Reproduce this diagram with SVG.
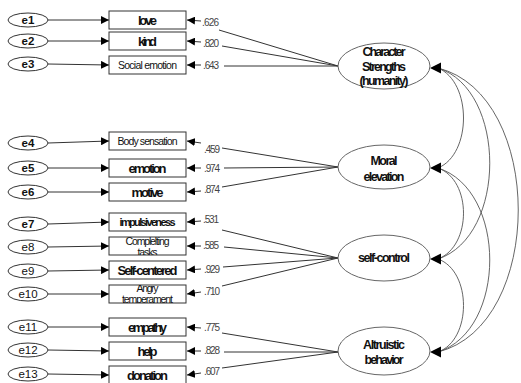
<svg xmlns="http://www.w3.org/2000/svg" width="521" height="383" viewBox="0 0 521 383">
<defs>
<style>
.box{fill:#fff;stroke:#333;stroke-width:1}
.err{fill:#fff;stroke:#333;stroke-width:1}
.lat{fill:#fff;stroke:#666;stroke-width:1}
.ln{fill:none;stroke:#333;stroke-width:1}
.cov{fill:none;stroke:#555;stroke-width:0.9}
.t{font-family:"Liberation Sans",Arial,sans-serif;fill:#111;text-anchor:middle}
.b{font-weight:bold;font-size:13px}
.s{font-size:10.5px}
.sb{font-weight:bold;font-size:11px}
.e{font-family:"Liberation Sans",Arial,sans-serif;font-size:11.5px;text-anchor:middle;fill:#111}
.eb{font-weight:bold}
.c{font-family:"Liberation Sans",Arial,sans-serif;font-size:10px;fill:#444}
.l{font-family:"Liberation Sans",Arial,sans-serif;font-weight:bold;font-size:12.5px;text-anchor:middle;fill:#111}
.head{fill:#000}
</style>
<marker id="ar" viewBox="0 0 8 8" refX="8" refY="4" markerWidth="8" markerHeight="8" markerUnits="userSpaceOnUse" orient="auto"><path d="M0,0 L8,4 L0,8 z" fill="#000"/></marker>
<clipPath id="cpC"><rect x="109" y="237" width="77" height="18"/></clipPath>
<clipPath id="cpA"><rect x="109" y="285" width="77" height="18"/></clipPath>
</defs>

<g id="connectors">
<path class="ln" marker-end="url(#ar)" d="M48,20 L109,20"/>
<path class="ln" marker-end="url(#ar)" d="M48,41 L109,41"/>
<path class="ln" marker-end="url(#ar)" d="M48,64 L109,65"/>
<path class="ln" marker-end="url(#ar)" d="M48,143 L109,141"/>
<path class="ln" marker-end="url(#ar)" d="M48,168 L109,168"/>
<path class="ln" marker-end="url(#ar)" d="M48,192 L109,192"/>
<path class="ln" marker-end="url(#ar)" d="M48,224 L109,222"/>
<path class="ln" marker-end="url(#ar)" d="M48,247 L109,246"/>
<path class="ln" marker-end="url(#ar)" d="M48,271 L109,270"/>
<path class="ln" marker-end="url(#ar)" d="M48,294 L109,294"/>
<path class="ln" marker-end="url(#ar)" d="M48,327 L109,327"/>
<path class="ln" marker-end="url(#ar)" d="M48,350 L109,351"/>
<path class="ln" marker-end="url(#ar)" d="M48,374 L109,375"/>
<path class="ln" marker-end="url(#ar)" d="M338,66 L219,30 M201,21 L187,20"/>
<path class="ln" marker-end="url(#ar)" d="M338,66 L222,46 M201,42 L187,41"/>
<path class="ln" marker-end="url(#ar)" d="M338,66 L224,66 M201,65 L187,65"/>
<path class="ln" marker-end="url(#ar)" d="M338,167 L222,148 M201,143 L187,141"/>
<path class="ln" marker-end="url(#ar)" d="M338,167 L224,168 M201,168 L187,168"/>
<path class="ln" marker-end="url(#ar)" d="M338,167 L222,187 M201,191 L187,192"/>
<path class="ln" marker-end="url(#ar)" d="M338,258 L222,230 M201,221 L187,222"/>
<path class="ln" marker-end="url(#ar)" d="M338,258 L224,247 M201,246 L187,246"/>
<path class="ln" marker-end="url(#ar)" d="M338,258 L223,267 M201,269 L187,270"/>
<path class="ln" marker-end="url(#ar)" d="M338,258 L222,286 M201,292 L187,294"/>
<path class="ln" marker-end="url(#ar)" d="M338,352 L222,333 M201,328 L187,327"/>
<path class="ln" marker-end="url(#ar)" d="M338,352 L224,352 M201,351 L187,351"/>
<path class="ln" marker-end="url(#ar)" d="M338,352 L222,368 M201,373 L187,375"/>
<path class="cov" d="M438,68 C472,82 472,154 438,168"/>
<path class="cov" d="M438,68 C507,90 507,236 438,259"/>
<path class="cov" d="M438,68 C545,95 545,325 438,352"/>
<path class="cov" d="M438,168 C472,180 472,246 438,259"/>
<path class="cov" d="M438,168 C507,190 507,330 438,352"/>
<path class="cov" d="M438,259 C472,271 472,340 438,352"/>
<polygon class="head" points="430,68 441,62.5 441,73.5"/>
<polygon class="head" points="430,168 441,162.5 441,173.5"/>
<polygon class="head" points="430,259 441,253.5 441,264.5"/>
<polygon class="head" points="430,352 441,346.5 441,357.5"/>
<text class="c" x="202" y="26" textLength="17">.626</text>
<text class="c" x="203" y="47" textLength="16">.820</text>
<text class="c" x="203" y="69" textLength="16">.643</text>
<text class="c" x="204" y="153" textLength="16">.459</text>
<text class="c" x="204" y="172" textLength="16">.974</text>
<text class="c" x="204" y="193" textLength="16">.874</text>
<text class="c" x="203" y="223" textLength="16">.531</text>
<text class="c" x="203" y="249" textLength="16">.585</text>
<text class="c" x="204" y="273" textLength="16">.929</text>
<text class="c" x="204" y="295" textLength="16">.710</text>
<text class="c" x="204" y="331" textLength="16">.775</text>
<text class="c" x="204" y="354" textLength="16">.828</text>
<text class="c" x="204" y="375" textLength="16">.607</text>
</g>

<g id="e1"><ellipse class="err" cx="28" cy="20" rx="20" ry="7"/><text class="e eb" x="28" y="24">e1</text></g>
<g id="e2"><ellipse class="err" cx="28" cy="41" rx="20" ry="7"/><text class="e eb" x="28" y="45">e2</text></g>
<g id="e3"><ellipse class="err" cx="28" cy="64" rx="20" ry="7"/><text class="e eb" x="28" y="68">e3</text></g>
<g id="e4"><ellipse class="err" cx="28" cy="143" rx="20" ry="7"/><text class="e eb" x="28" y="147">e4</text></g>
<g id="e5"><ellipse class="err" cx="28" cy="168" rx="20" ry="7"/><text class="e eb" x="28" y="172">e5</text></g>
<g id="e6"><ellipse class="err" cx="28" cy="192" rx="20" ry="7"/><text class="e eb" x="28" y="196">e6</text></g>
<g id="e7"><ellipse class="err" cx="28" cy="224" rx="20" ry="7"/><text class="e eb" x="28" y="228">e7</text></g>
<g id="e8"><ellipse class="err" cx="28" cy="247" rx="20" ry="7"/><text class="e" x="28" y="251">e8</text></g>
<g id="e9"><ellipse class="err" cx="28" cy="271" rx="20" ry="7"/><text class="e" x="28" y="275">e9</text></g>
<g id="e10"><ellipse class="err" cx="28" cy="294" rx="20" ry="7"/><text class="e" x="28" y="298">e10</text></g>
<g id="e11"><ellipse class="err" cx="28" cy="327" rx="20" ry="7"/><text class="e" x="28" y="331">e11</text></g>
<g id="e12"><ellipse class="err" cx="28" cy="350" rx="20" ry="7"/><text class="e" x="28" y="354">e12</text></g>
<g id="e13"><ellipse class="err" cx="28" cy="374" rx="20" ry="7"/><text class="e" x="28" y="378">e13</text></g>

<g id="love"><rect class="box" x="109" y="11" width="77" height="18"/><text class="t b" x="147.5" y="24.5" textLength="19">love</text></g>
<g id="kind"><rect class="box" x="109" y="32" width="77" height="18"/><text class="t b" x="147.5" y="45.5" textLength="19">kind</text></g>
<g id="social-emotion"><rect class="box" x="109" y="56" width="77" height="18"/><text class="t s" x="147.5" y="69" textLength="59">Social emotion</text></g>
<g id="body-sensation"><rect class="box" x="109" y="132" width="77" height="18"/><text class="t s" x="147.5" y="145" textLength="60">Body sensation</text></g>
<g id="emotion"><rect class="box" x="109" y="159" width="77" height="18"/><text class="t b" x="147.5" y="172.5" textLength="38">emotion</text></g>
<g id="motive"><rect class="box" x="109" y="183" width="77" height="18"/><text class="t b" x="147.5" y="196.5" textLength="32">motive</text></g>
<g id="impulsiveness"><rect class="box" x="109" y="213" width="77" height="18"/><text class="t sb" x="147.5" y="226" textLength="56">impulsiveness</text></g>
<g id="completing-tasks"><rect class="box" x="109" y="237" width="77" height="18"/><g clip-path="url(#cpC)"><text class="t s" x="147.5" y="245" textLength="44">Complelting</text><text class="t s" x="147.5" y="255.5" textLength="20">tasks</text></g></g>
<g id="self-centered"><rect class="box" x="109" y="261" width="77" height="18"/><text class="t b" x="147.5" y="274.5" textLength="60">Self-centered</text></g>
<g id="angry-temperament"><rect class="box" x="109" y="285" width="77" height="18"/><g clip-path="url(#cpA)"><text class="t s" x="147.5" y="292" textLength="22">Angry</text><text class="t s" x="147.5" y="303" textLength="51">temperament</text></g></g>
<g id="empathy"><rect class="box" x="109" y="318" width="77" height="18"/><text class="t b" x="147.5" y="331.5" textLength="39">empathy</text></g>
<g id="help"><rect class="box" x="109" y="342" width="77" height="18"/><text class="t b" x="147.5" y="355.5" textLength="20">help</text></g>
<g id="donation"><rect class="box" x="109" y="366" width="77" height="18"/><text class="t b" x="147.5" y="379.5" textLength="41">donation</text></g>

<g id="character-strengths"><ellipse class="lat" cx="384" cy="66" rx="46" ry="23"/><text class="l" x="384" y="56" textLength="43">Character</text><text class="l" x="384" y="70.5" textLength="44">Strengths</text><text class="l" x="384" y="85" textLength="49">(humanity)</text></g>
<g id="moral-elevation"><ellipse class="lat" cx="384" cy="167" rx="46" ry="22"/><text class="l" x="384" y="165" textLength="27">Moral</text><text class="l" x="384" y="181" textLength="41">elevation</text></g>
<g id="self-control"><ellipse class="lat" cx="384" cy="258" rx="46" ry="23"/><text class="l" x="384" y="262" textLength="52">self-control</text></g>
<g id="altruistic-behavior"><ellipse class="lat" cx="384" cy="351" rx="46" ry="24"/><text class="l" x="384" y="349" textLength="42">Altruistic</text><text class="l" x="384" y="363.5" textLength="39">behavior</text></g>
</svg>
